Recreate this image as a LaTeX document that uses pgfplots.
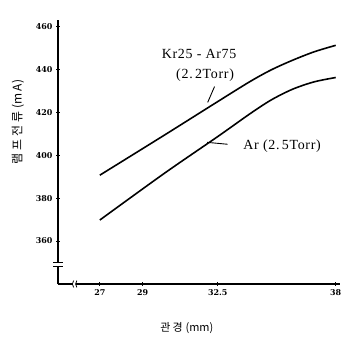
\documentclass[border=0pt]{standalone}
\usepackage{fontspec}
\setmainfont{Liberation Serif}
\newfontfamily\lbl[LetterSpace=5]{Liberation Serif}
\newfontfamily\tk{DejaVu Serif}
\newfontfamily\kr{Noto Sans CJK KR}
\usepackage{pgfplots}
\pgfplotsset{compat=1.18}
\begin{document}
\begin{tikzpicture}
\begin{axis}[
  scale only axis, width=282bp, height=264bp,
  xmin=25.05, xmax=38.2, ymin=340, ymax=463,
  axis x line=bottom, axis y line=left,
  axis line style={-, line width=1.1pt},
  xtick={27,29,32.5,38}, xticklabels={27,29,32.5,38},
  ytick={360,380,400,420,440,460},
  tick align=center, major tick length=4pt,
  tick style={line width=0.8pt, black},
  /pgf/number format/assume math mode=true,
  ticklabel style={font=\tk\bfseries\fontsize{8}{9}\selectfont},
  clip=false,
]
\addplot[black, line width=1.6pt, smooth, tension=0.5] coordinates {
 (27,390.7) (30,409.3) (32.5,425) (34,434.3) (35,439.8) (36,444.3) (37,448.2) (38,451.2)};
\addplot[black, line width=1.6pt, smooth, tension=0.5] coordinates {
 (27,369.8) (30,391.5) (32.5,408.7) (34,419.3) (35,425.8) (36,430.8) (37,434.2) (38,436.2)};
\node[font=\lbl\fontsize{14}{16}\selectfont] at (axis cs:31.63,447.4) {Kr25 - Ar75};
\node[font=\lbl\fontsize{14}{16}\selectfont] at (axis cs:31.91,437.2) {(2.\,2Torr)};
\draw[line width=0.9pt] (axis cs:32.35,432) -- (axis cs:32.03,424.6);
\node[font=\lbl\fontsize{14}{16}\selectfont] at (axis cs:35.5,404.2) {Ar (2.\,5Torr)};
\draw[line width=0.9pt] (axis cs:32.96,405.1) -- (axis cs:32.0,406);
% axis breaks
\fill[white] (axis cs:24.8,348.4) rectangle (axis cs:25.3,350.2);
\draw[line width=0.8pt] (axis cs:24.82,350.2) -- (axis cs:25.28,350.2);
\draw[line width=0.8pt] (axis cs:24.82,348.4) -- (axis cs:25.28,348.4);
\fill[white] (axis cs:25.75,339) rectangle (axis cs:25.9,341);
\draw[line width=0.8pt] (axis cs:25.78,338.4) .. controls (axis cs:25.7,339.4) and (axis cs:25.7,340.6) .. (axis cs:25.78,341.6);
\draw[line width=0.8pt] (axis cs:25.93,338.4) .. controls (axis cs:25.85,339.4) and (axis cs:25.85,340.6) .. (axis cs:25.93,341.6);
\node[rotate=90, font=\kr\fontsize{12}{14}\selectfont] at (rel axis cs:-0.142,0.614) {램\hspace{3pt}프\hspace{3pt}전\hspace{3pt}류\hspace{3pt}(m\hspace{2pt}A)};
\node[font=\kr\fontsize{11}{13}\selectfont] at (rel axis cs:0.457,-0.167) {관\hspace{2pt}경\hspace{3pt}(mm)};
\end{axis}
\pgfresetboundingbox
\path (current axis.origin) ++(-58bp,-54bp) rectangle ++(353bp,338bp);
\end{tikzpicture}
\end{document}
